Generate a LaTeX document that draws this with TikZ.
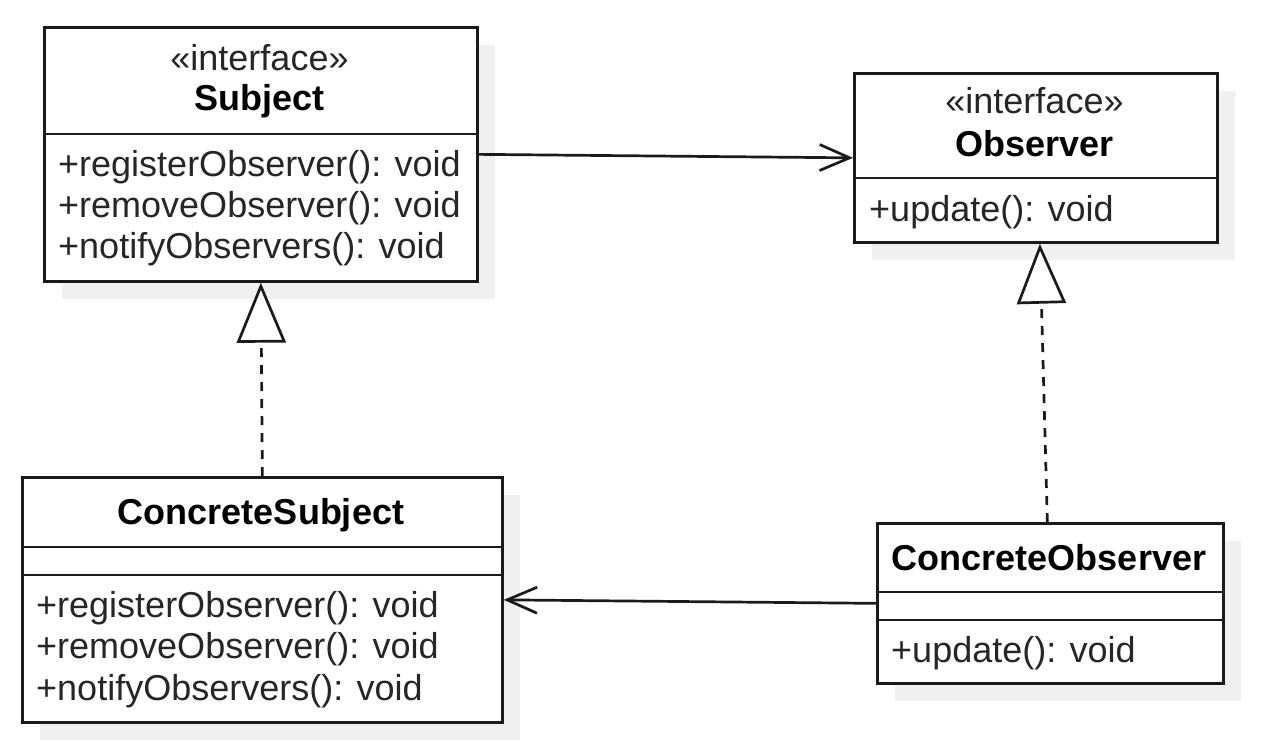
\documentclass[tikz,border=0pt]{standalone}
\usepackage{fontspec}
\setmainfont{Liberation Sans}
\usetikzlibrary{arrows.meta}
\definecolor{shadowc}{HTML}{F0F0F0}
\definecolor{linec}{HTML}{1A1A1A}
\tikzset{
  classbox/.style={draw=linec, fill=white, line width=2.7pt, rectangle, inner sep=0pt, anchor=north west},
  divider/.style={draw=linec, line width=2.7pt},
  txt/.style={inner sep=0pt, font=\fontsize{36}{41}\selectfont, text=black!85, anchor=base west},
  title/.style={inner sep=0pt, font=\fontsize{36}{41}\selectfont\bfseries, anchor=base},
  stereo/.style={inner sep=0pt, font=\fontsize{36}{41}\selectfont, text=black!85, anchor=base},
  assoc/.style={draw=linec, line width=2.7pt, -{Straight Barb[length=30pt,width=26pt,line width=2.7pt]}},
  realize/.style={draw=linec, line width=2.7pt, dash pattern=on 9pt off 8pt,
    -{Triangle[length=60pt,width=49pt,fill=white,line width=2.7pt]}}
}
\begin{document}
\begin{tikzpicture}[x=1pt,y=-1pt]
\useasboundingbox (0,0) rectangle (1261,739);
% shadows
\fill[shadowc] (62,45) rectangle (495,299);
\fill[shadowc] (872,91) rectangle (1235,260);
\fill[shadowc] (40,495) rectangle (520,740);
\fill[shadowc] (895,541) rectangle (1241,701);
% class boxes
\node[classbox, minimum width=433pt, minimum height=254pt] (subj) at (43,26) {};
\node[classbox, minimum width=363pt, minimum height=169pt] (obs) at (853,72) {};
\node[classbox, minimum width=480pt, minimum height=245pt] (csubj) at (21,476) {};
\node[classbox, minimum width=346pt, minimum height=160pt] (cobs) at (876,522) {};
% dividers
\draw[divider] (subj.west |- 0,134) -- (subj.east |- 0,134);
\draw[divider] (obs.west |- 0,178) -- (obs.east |- 0,178);
\draw[divider] (csubj.west |- 0,547) -- (csubj.east |- 0,547);
\draw[divider] (csubj.west |- 0,575) -- (csubj.east |- 0,575);
\draw[divider] (cobs.west |- 0,592) -- (cobs.east |- 0,592);
\draw[divider] (cobs.west |- 0,620) -- (cobs.east |- 0,620);
% Subject texts
\node[stereo] (s0) at (259.5,70) {«interface»};
\node[title] (st) at (259.5,110) {Subject};
\node[txt] (s1) at (58,176) {+registerObserver(): void};
\node[txt] (s2) at (58,217) {+removeObserver(): void};
\node[txt] (s3) at (58,258) {+notifyObservers(): void};
% Observer texts
\node[stereo] (o0) at (1034.5,113) {«interface»};
\node[title] (ot) at (1034.5,156) {Observer};
\node[txt] (o1) at (869,221) {+update(): void};
% ConcreteSubject texts
\node[title] (cst) at (261,524) {ConcreteSubject};
\node[txt] (cs1) at (36,617) {+registerObserver(): void};
\node[txt] (cs2) at (36,658) {+removeObserver(): void};
\node[txt] (cs3) at (36,700) {+notifyObservers(): void};
% ConcreteObserver texts
\node[title] (cot) at (1049,570) {ConcreteObserver};
\node[txt] (co1) at (891,662) {+update(): void};
% connectors
\draw[assoc] (subj.east) -- (obs.west);
\draw[assoc] (cobs.west) -- (csubj.east);
\draw[realize] (csubj.north) -- (subj.south);
\draw[realize] ([xshift=-3pt]cobs.north) -- ([xshift=4pt]obs.south);
\end{tikzpicture}
\end{document}
